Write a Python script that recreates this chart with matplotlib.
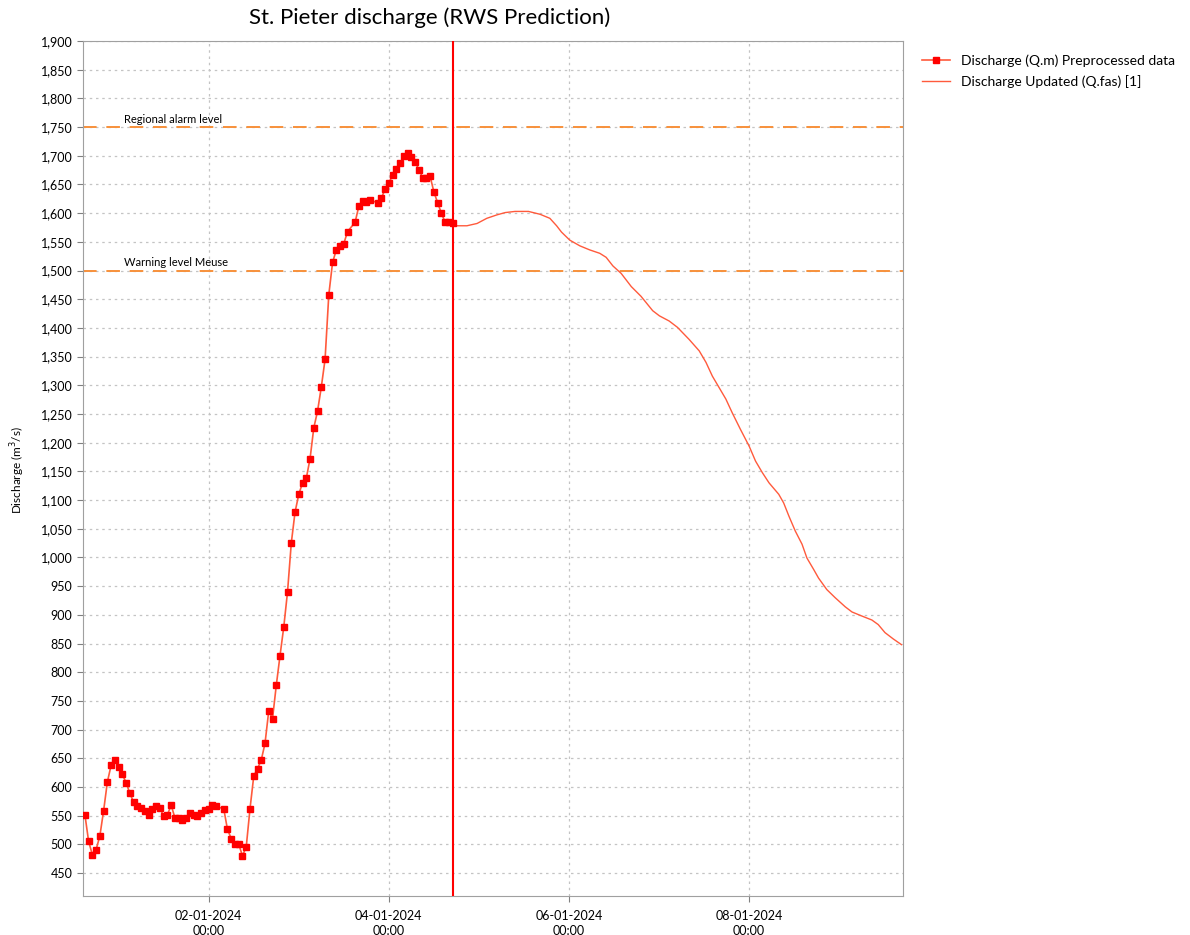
import numpy as np
import pandas as pd
import matplotlib
matplotlib.use("Agg")
import matplotlib.pyplot as plt
import matplotlib.dates as mdates
import matplotlib.transforms as mtransforms
from matplotlib.ticker import MultipleLocator, FuncFormatter

# observed discharge (hours after 31-12-2023 15:00), a few hours missing
obs_hours = [0, 1, 2, 3, 4, 5, 6, 7, 8, 9, 10, 11, 12, 13, 14, 15, 16, 17, 18, 19,
             20, 21, 22, 23, 24, 25, 26, 27, 28, 29, 30, 31, 32, 33, 34, 35,
             37, 38, 39, 40, 41, 42, 43, 44, 45, 46, 47, 48, 49, 50, 51, 52, 53,
             54, 55, 56, 57, 58, 59, 60, 61, 62, 63, 64, 65, 66, 67, 68, 69, 70,
             72, 73, 74, 75, 76,
             78, 79, 80, 81, 82, 83, 84, 85, 86, 87, 88, 89, 90, 91, 92, 93, 94,
             95, 96, 97, 98]
obs_vals = [552, 505, 482, 491, 515, 559, 609, 638, 647, 635, 622, 607, 589, 573,
            567, 564, 558, 552, 561, 567, 563, 549, 552, 568, 546, 546, 542, 546,
            554, 552, 549, 555, 560, 561, 569, 566, 562, 526, 510, 500, 500, 480,
            496, 562, 619, 632, 647, 676, 733, 719, 777, 829, 879, 940, 1025, 1079,
            1110, 1130, 1138, 1172, 1226, 1255, 1297, 1345, 1458, 1514, 1536, 1542,
            1547, 1568, 1584, 1612, 1621, 1619, 1623, 1618, 1626, 1642, 1653, 1666,
            1677, 1687, 1699, 1705, 1697, 1689, 1676, 1662, 1662, 1664, 1637, 1618,
            1600, 1584, 1584, 1582]

# forecast (hours after T0 = 04-01-2024 17:00)
fc_hours = [0, 1.1, 3.8, 6.5, 9.1, 11.8, 14, 16.6, 20.2, 23.3, 25.9, 27.7, 29, 31.2,
            33.9, 36.5, 39.2, 40.9, 42.7, 44.9, 47.6, 50.2, 53.3, 55.1, 57.7, 59.9,
            63, 65.7, 67.5, 69.2, 71, 72.8, 74.5, 76.7, 79, 80.7, 82.5, 84.3, 86.9,
            88.2, 89.6, 91.3, 93.1, 94.4, 96.2, 97.5, 99.7, 101.9, 104.6, 106.4, 109,
            111.7, 113.4, 115.2, 117.4, 119.6]
fc_vals = [1583, 1578, 1578, 1582, 1591, 1597, 1601, 1603, 1603, 1598, 1591, 1578,
           1567, 1553, 1543, 1536, 1530, 1523, 1508, 1495, 1472, 1455, 1430, 1421,
           1412, 1401, 1380, 1360, 1340, 1316, 1296, 1276, 1252, 1223, 1194, 1168,
           1148, 1130, 1110, 1095, 1072, 1046, 1023, 999, 979, 964, 944, 930, 914,
           905, 898, 891, 883, 869, 858, 848]

levels = [1750, 1500]
level_names = ["Regional alarm level", "Warning level Meuse"]

start = pd.Timestamp("2023-12-31 15:00")
t0 = pd.Timestamp("2024-01-04 17:00")
obs_t = start + pd.to_timedelta(obs_hours, unit="h")
fc_t = t0 + pd.to_timedelta(fc_hours, unit="h")

plt.rcParams["font.family"] = ["Lato", "DejaVu Sans"]

fig = plt.figure(figsize=(11.9, 9.35), dpi=100)
ax = fig.add_axes([83 / 1190, 1 - 896 / 935, 820 / 1190, 855 / 935])

ax.plot(obs_t, obs_vals, "-s", color="#ff5a3c", mfc="red", mec="red", ms=5, lw=1.2,
        label="Discharge (Q.m) Preprocessed data", zorder=4)
ax.plot(fc_t, fc_vals, color="#ff5a3c", lw=1.0, label="Discharge Updated (Q.fas) [1]",
        zorder=3)

trans = mtransforms.blended_transform_factory(ax.transAxes, ax.transData)
for lev, name in zip(levels, level_names):
    ax.axhline(lev, color="#f7913b", lw=1.4, ls=(0, (7, 5)), zorder=2)
    ax.text(0.05, lev + 4, name, transform=trans, fontsize=8, va="bottom", ha="left")

ax.axvline(t0, color="red", lw=1.5, zorder=5)

ax.set_xlim(pd.Timestamp("2023-12-31 14:30"), pd.Timestamp("2024-01-09 17:00"))
ax.set_ylim(410, 1900)
ax.yaxis.set_major_locator(MultipleLocator(50))
ax.yaxis.set_major_formatter(FuncFormatter(lambda v, p: f"{int(v):,}"))
ax.xaxis.set_major_locator(mdates.DayLocator(bymonthday=[2, 4, 6, 8]))
ax.xaxis.set_major_formatter(mdates.DateFormatter("%d-%m-%Y\n%H:%M"))
ax.tick_params(labelsize=9, length=4, color="#808080")
ax.tick_params(axis="x", pad=6)
for lab in ax.get_xticklabels():
    lab.set_linespacing(1.3)

ax.grid(True, color="#c4c4c4", ls=(0, (2, 3)), lw=0.9)
for s in ax.spines.values():
    s.set_color("#a0a0a0")

fig.legend(loc="upper left", bbox_to_anchor=(910 / 1190, 1 - 42 / 935), frameon=False,
           fontsize=10, handlelength=2.0, labelspacing=0.55)
fig.text(430 / 1190, 1 - 18 / 935, "St. Pieter discharge (RWS Prediction)",
         ha="center", va="center", fontsize=16)
fig.text(18 / 1190, 1 - 470 / 935, "Discharge (m$^3$/s)", rotation=90,
         ha="center", va="center", fontsize=8.5)

fig.savefig("out.png", dpi=100)
